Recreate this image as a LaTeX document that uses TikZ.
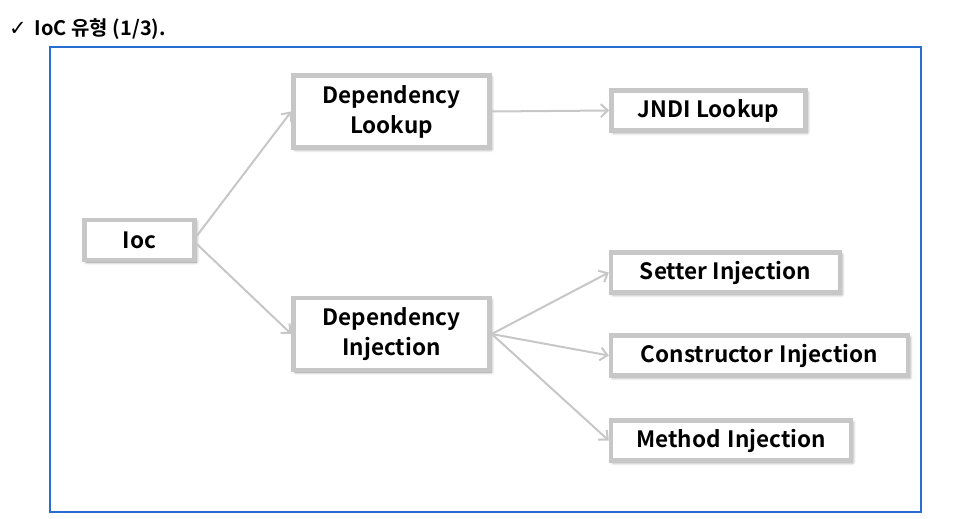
\documentclass[tikz,border=0pt]{standalone}
\usepackage{fontspec}
\setmainfont{Noto Sans CJK KR}[BoldFont={Noto Sans CJK KR Bold}]
\newfontfamily\symfont{DejaVu Sans}
\usetikzlibrary{arrows.meta,shadows.blur}
\tikzset{
  item/.style={draw=black!22, line width=4.5pt, fill=white, minimum height=#1,
    inner sep=0pt, font=\bfseries\fontsize{22.5}{32}\selectfont, align=center,
    blur shadow={shadow xshift=1.8pt, shadow yshift=-2pt, shadow blur steps=8, shadow blur radius=3pt, shadow opacity=45}},
  item/.default=40pt,
  conn/.style={draw=black!22, line width=2pt, -{Straight Barb[length=7pt,width=13pt,line width=2pt]}}
}
\begin{document}
\begin{tikzpicture}[x=1pt,y=-1pt]
\useasboundingbox (0,0) rectangle (953,519);
\node[anchor=base west, inner sep=0pt, font=\bfseries\fontsize{20}{24}\selectfont] (title) at (9,36) {{\symfont\mdseries\fontsize{21}{24}\selectfont ✓}\hspace{8pt}IoC 유형 (1/3).};
\draw[draw={rgb,255:red,40;green,110;blue,210}, line width=1.6pt] (50,47) rectangle (921,512);
\node[item, minimum width=110pt] (ioc) at (139.5,240) {Ioc};
\node[item=72pt, minimum width=196pt] (dl) at (391.5,111.5) {Dependency\\[-2pt]Lookup};
\node[item=72pt, minimum width=196pt] (di) at (391.5,334) {Dependency\\[-2pt]Injection};
\node[item, minimum width=194pt] (jndi) at (708.5,110.5) {JNDI Lookup};
\node[item, minimum width=229pt] (set) at (725.5,272.5) {Setter Injection};
\node[item, minimum width=297pt] (con) at (759.5,355.5) {Constructor\hspace{2pt} Injection};
\node[item, minimum width=240pt] (met) at (731,440.5) {Method\hspace{2pt} Injection};
\draw[conn] (ioc.east) ++(0,-4) -- (dl.west);
\draw[conn] (ioc.east) ++(0,4) -- (di.west);
\draw[conn] (dl.east) -- (jndi.west);
\draw[conn] (di.east) -- (set.west);
\draw[conn] (di.east) -- (con.west);
\draw[conn] (di.east) -- (met.west);
\end{tikzpicture}
\end{document}
